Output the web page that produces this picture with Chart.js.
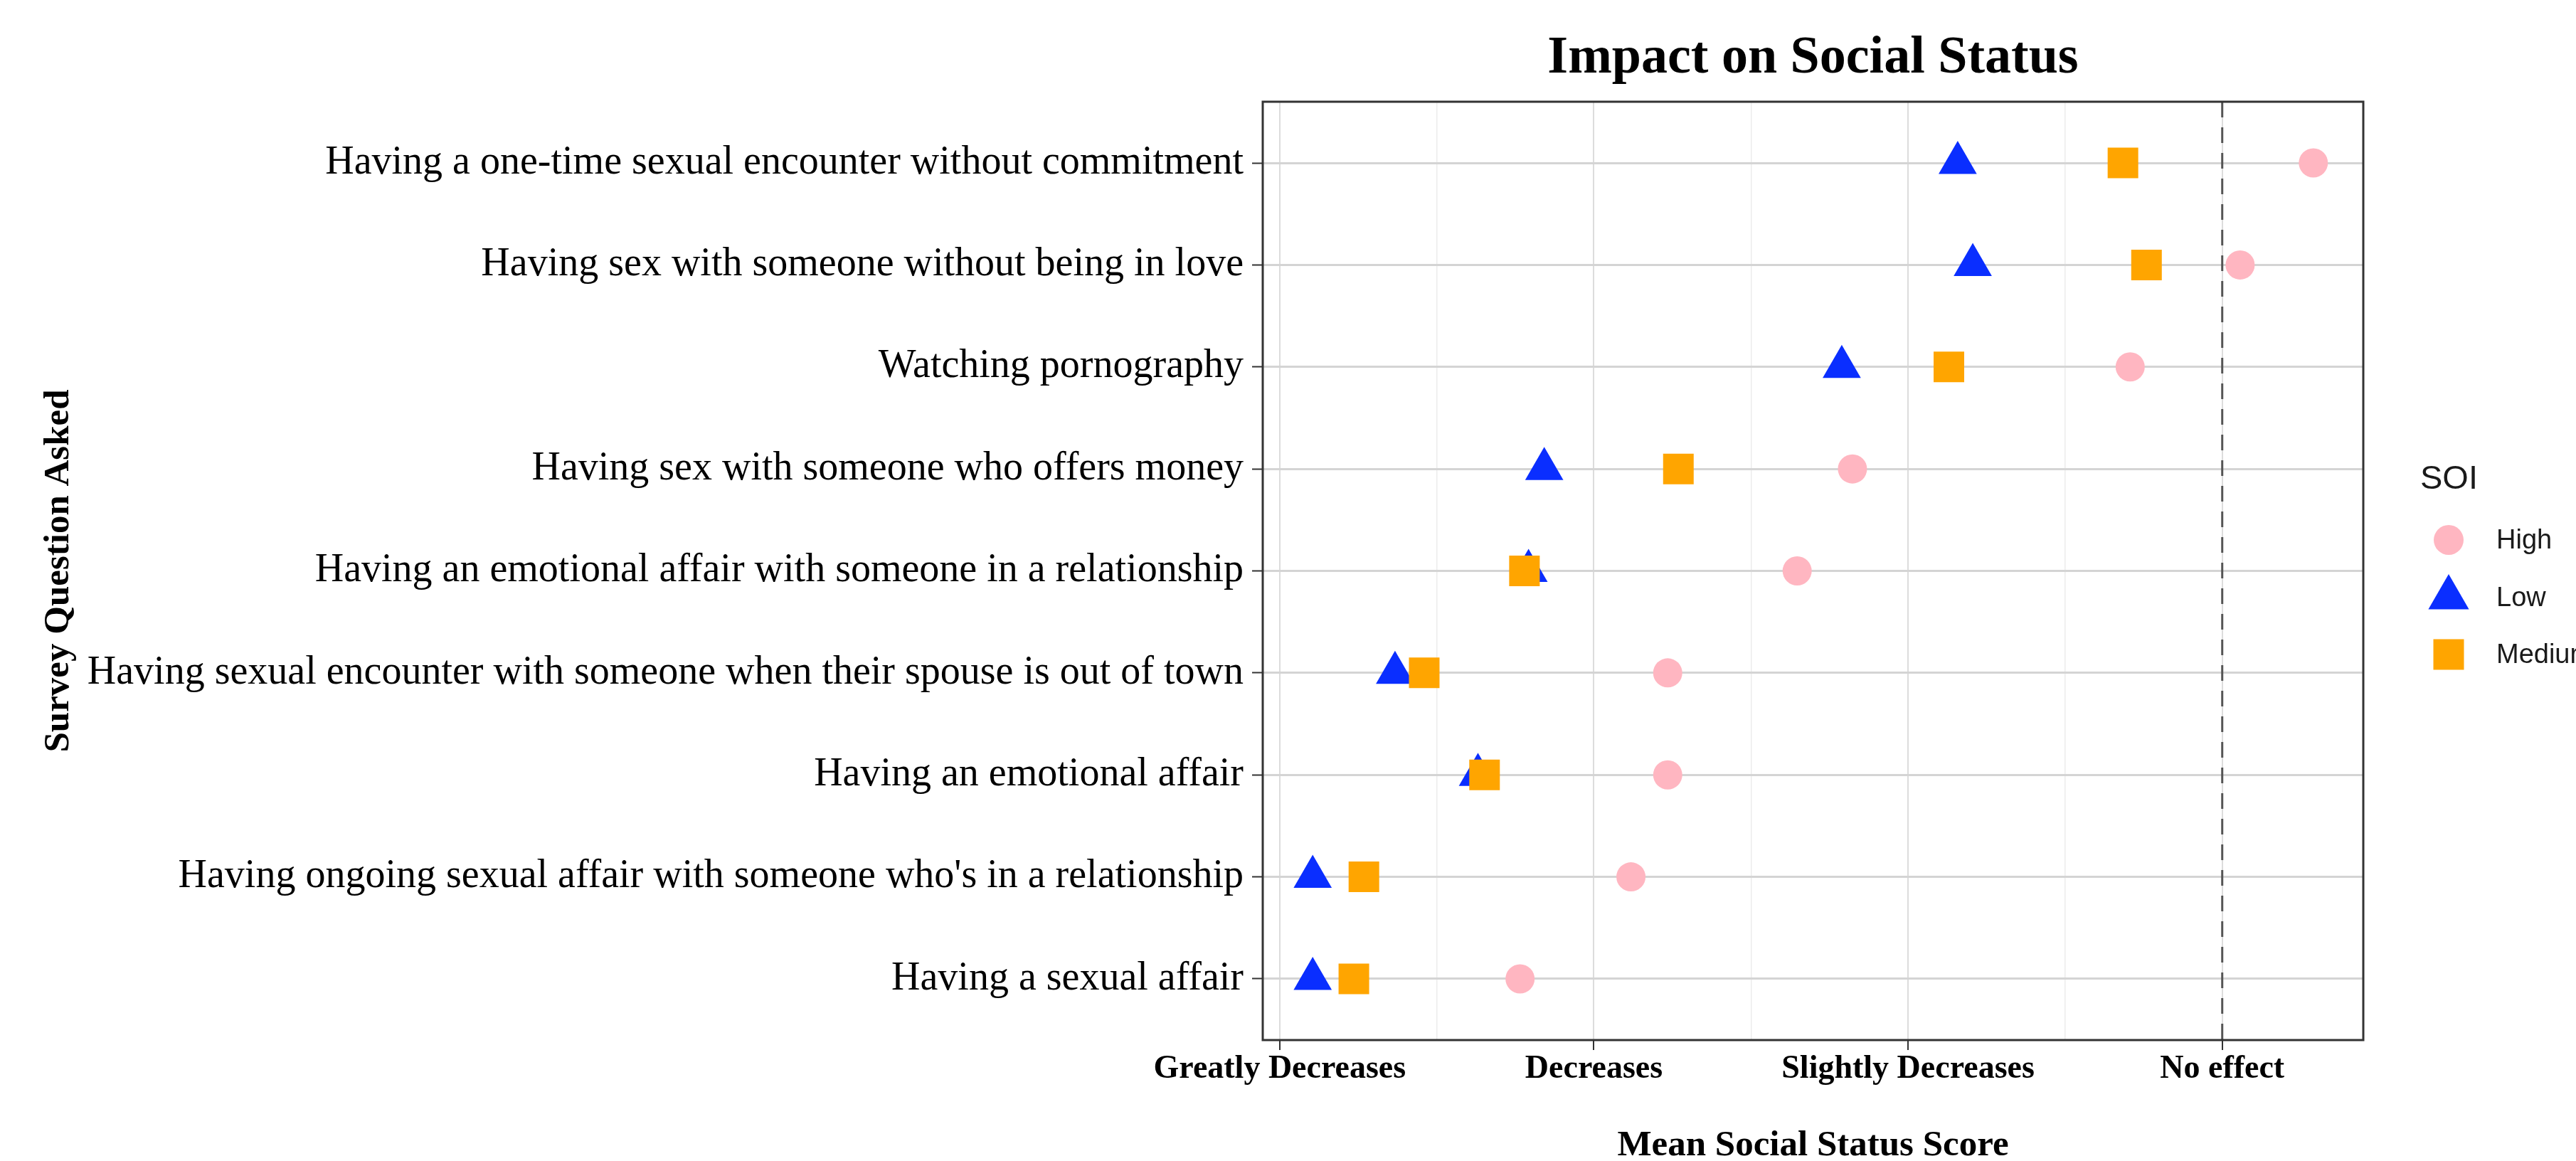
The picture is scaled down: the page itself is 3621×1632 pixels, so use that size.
<!DOCTYPE html>
<html>
<head>
<meta charset="utf-8">
<title>Impact on Social Status</title>
<script src="https://cdn.jsdelivr.net/npm/chart.js@4.4.1/dist/chart.umd.min.js"></script>
<style>
  html, body { margin: 0; padding: 0; background: #fff; overflow: hidden; }
  #chart { display: block; }
</style>
</head>
<body>
<canvas id="chart" width="3621" height="1632"></canvas>
<script>
// survey items, top to bottom
const questions = [
    "Having a one-time sexual encounter without commitment",
    "Having sex with someone without being in love",
    "Watching pornography",
    "Having sex with someone who offers money",
    "Having an emotional affair with someone in a relationship",
    "Having sexual encounter with someone when their spouse is out of town",
    "Having an emotional affair",
    "Having ongoing sexual affair with someone who's in a relationship",
    "Having a sexual affair"
];

// mean score per SOI group (1 = Greatly Decreases ... 4 = No effect)
const highScores   = [4.29, 4.057, 3.707, 2.823, 2.647, 2.235, 2.235, 2.118, 1.765];
const lowScores    = [3.158, 3.206, 2.789, 1.842, 1.792, 1.367, 1.631, 1.105, 1.105];
const mediumScores = [3.684, 3.759, 3.13, 2.269, 1.779, 1.46, 1.652, 1.268, 1.236];

const scoreTicks = [1, 1.5, 2, 2.5, 3, 3.5, 4];
const scoreLabels = { 1: "Greatly Decreases", 2: "Decreases", 3: "Slightly Decreases", 4: "No effect" };
const noEffect = 4;

const groupNames  = ["High", "Low", "Medium"];
const groupColors = ["#FFB6C1", "#0A2EFF", "#FFA500"];
const groupShapes = ["circle", "triangle", "rect"];
const groupRadius = [20.5, 31, 30.4];

const serif = "'Liberation Serif', 'Times New Roman', serif";
const sans = "'Liberation Sans', Arial, sans-serif";

const toPoints = (vals) => vals.map((v, i) => ({ x: v, y: i + 1 }));

const groupSets = [highScores, lowScores, mediumScores].map((vals, g) => ({
    label: groupNames[g],
    data: toPoints(vals),
    pointStyle: groupShapes[g],
    pointRadius: groupRadius[g],
    pointHoverRadius: groupRadius[g],
    backgroundColor: groupColors[g],
    borderWidth: 0,
    pointBorderWidth: 0,
    order: 3 - g   // medium on top, high underneath
}));

const vlineSet = {
    type: "line",
    label: "no effect",
    data: [{ x: noEffect, y: 0.4 }, { x: noEffect, y: questions.length + 0.6 }],
    showLine: true,
    borderColor: "#555555",
    borderWidth: 3,
    borderDash: [22, 14],
    pointRadius: 0,
    order: 10
};

// title, panel border and the SOI legend
const decorPlugin = {
    id: "decor",
    afterDraw(chart) {
        const ctx = chart.ctx;
        const a = chart.chartArea;
        ctx.save();

        ctx.strokeStyle = "#333333";
        ctx.lineWidth = 3;
        ctx.strokeRect(a.left, a.top, a.right - a.left, a.bottom - a.top);

        ctx.fillStyle = "#000";
        ctx.font = "bold 74px " + serif;
        ctx.textAlign = "center";
        ctx.textBaseline = "alphabetic";
        ctx.fillText("Impact on Social Status", (a.left + a.right) / 2, 102);

        ctx.textAlign = "left";
        ctx.textBaseline = "middle";
        ctx.font = "47px " + sans;
        ctx.fillStyle = "#1a1a1a";
        ctx.fillText("SOI", 3402, 674);

        const keyX = 3442;
        const keyY = [759, 840, 920];
        groupNames.forEach((name, g) => {
            const y = keyY[g];
            ctx.fillStyle = groupColors[g];
            ctx.beginPath();
            if (groupShapes[g] === "circle") {
                ctx.arc(keyX, y, 21, 0, Math.PI * 2);
            } else if (groupShapes[g] === "triangle") {
                const r = 33;
                ctx.moveTo(keyX, y - r);
                ctx.lineTo(keyX + r * 0.866, y + r / 2);
                ctx.lineTo(keyX - r * 0.866, y + r / 2);
                ctx.closePath();
            } else {
                ctx.rect(keyX - 21.5, y - 21.5, 43, 43);
            }
            ctx.fill();
            ctx.fillStyle = "#1a1a1a";
            ctx.font = "38px " + sans;
            ctx.fillText(name, 3509, y + 2);
        });
        ctx.restore();
    }
};

const ctx = document.getElementById("chart").getContext("2d");
new Chart(ctx, {
    type: "scatter",
    data: { datasets: [...groupSets, vlineSet] },
    options: {
        responsive: false,
        animation: false,
        devicePixelRatio: 1,
        layout: { padding: { left: 0, right: 299, top: 143, bottom: 0 } },
        plugins: {
            legend: { display: false },
            title: { display: false },
            tooltip: { enabled: false }
        },
        scales: {
            x: {
                type: "linear",
                min: 0.946,
                max: 4.449,
                afterBuildTicks: (scale) => {
                    scale.ticks = scoreTicks.map(v => ({ value: v }));
                },
                afterFit: (scale) => { scale.height = 170; },
                ticks: {
                    autoSkip: false,
                    maxRotation: 0,
                    minRotation: 0,
                    padding: 0,
                    color: "#000",
                    font: { family: serif, size: 46, weight: "bold" },
                    callback: (v) => scoreLabels[v] || ""
                },
                grid: {
                    color: (c) => Number.isInteger(c.tick.value) ? "#dcdcdc" : "#ececec",
                    lineWidth: (c) => Number.isInteger(c.tick.value) ? 2 : 1.5,
                    tickColor: (c) => Number.isInteger(c.tick.value) ? "#333333" : "rgba(0,0,0,0)",
                    tickLength: 14,
                    tickWidth: 2
                },
                border: { display: false },
                title: {
                    display: true,
                    text: "Mean Social Status Score",
                    color: "#000",
                    font: { family: serif, size: 51, weight: "bold", lineHeight: 0.82 },
                    padding: { top: 0, bottom: 0 }
                }
            },
            y: {
                type: "linear",
                reverse: true,
                min: 0.4,
                max: questions.length + 0.6,
                afterBuildTicks: (scale) => {
                    scale.ticks = questions.map((q, i) => ({ value: i + 1 }));
                },
                afterFit: (scale) => { scale.width = 1775; },
                ticks: {
                    autoSkip: false,
                    padding: 12,
                    color: "#000",
                    font: { family: serif, size: 56 },
                    callback: (v) => questions[v - 1] || ""
                },
                grid: {
                    color: "#d4d4d4",
                    lineWidth: 3,
                    tickColor: "#333333",
                    tickLength: 15,
                    tickWidth: 2
                },
                border: { display: false },
                title: {
                    display: true,
                    text: "Survey Question Asked",
                    color: "#000",
                    font: { family: serif, size: 51, weight: "bold" },
                    padding: { top: 52, bottom: 0 }
                }
            }
        }
    },
    plugins: [decorPlugin]
});
</script>
</body>
</html>
